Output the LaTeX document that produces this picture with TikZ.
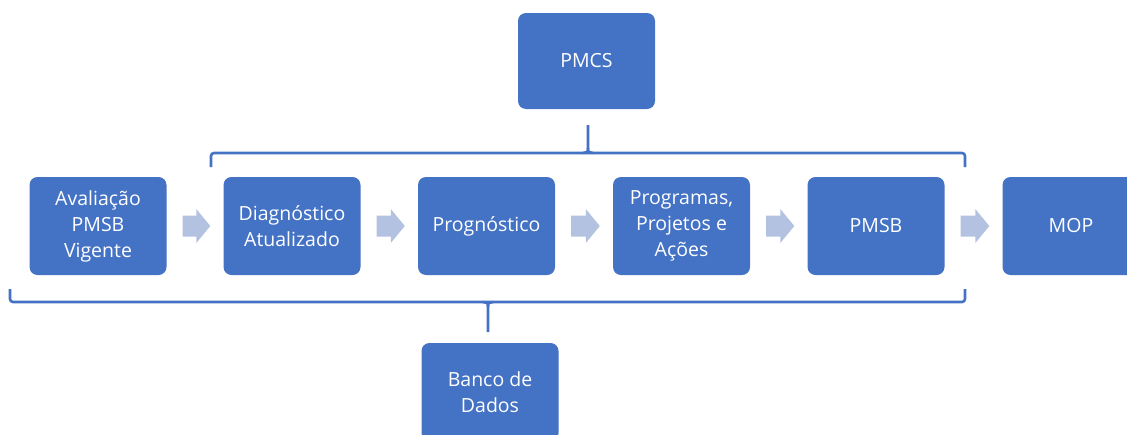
\documentclass[tikz,border=0pt]{standalone}
\usepackage{fontspec}
\setmainfont{Open Sans}
\usetikzlibrary{calc}
\definecolor{boxblue}{RGB}{68,114,196}
\definecolor{arrowblue}{RGB}{180,194,225}
\tikzset{
  stagebox/.style={fill=boxblue, draw=none, rounded corners=8pt, minimum width=137pt, minimum height=98pt,
    text=white, align=center, inner sep=2pt, font=\fontsize{19.5}{26}\selectfont},
  bracketline/.style={draw=boxblue, line width=2.6pt, rounded corners=3pt},
  blockarrow/.style={fill=arrowblue, draw=none}
}
\begin{document}
\begin{tikzpicture}[x=1pt,y=-1pt]
\useasboundingbox (0,0) rectangle (1127,434);
\clip (0,0) rectangle (1127,434);
\node[stagebox] (av) at (98,226) {Avaliação\\PMSB\\Vigente};
\node[stagebox] (dg) at (292,226) {Diagnóstico\\Atualizado};
\node[stagebox] (pg) at (486.5,226) {Prognóstico};
\node[stagebox] (pp) at (681.5,226) {Programas,\\Projetos e\\Ações};
\node[stagebox] (pm) at (876,226) {PMSB};
\node[stagebox] (mo) at (1071,226) {MOP};
\node[stagebox, minimum height=96pt] (pc) at (586.5,61) {PMCS};
\node[stagebox, text depth=0pt] (bd) at (490,392) {Banco de\\Dados};
% block arrows
\foreach \a/\b in {av/dg, dg/pg, pg/pp, pp/pm, pm/mo}{
  \coordinate (s) at ($(\a.east)+(16,0)$);
  \coordinate (e) at ($(\b.west)+(-13,0)$);
  \fill[blockarrow] ($(s)+(0,-10.5)$) -- ($(e)+(-14,-10.5)$) -- ($(e)+(-14,-17)$) -- (e)
     -- ($(e)+(-14,17)$) -- ($(e)+(-14,10.5)$) -- ($(s)+(0,10.5)$) -- cycle;
}
% top bracket
\coordinate (tl) at (211,167);
\coordinate (tr) at (965,167);
\coordinate (tt) at (588,125);
\draw[bracketline] (tl) -- (211,153) -- (965,153) -- (tr);
\draw[draw=boxblue, line width=2.6pt] (tt) -- (588,148) .. controls (588,152) .. (583,153);
\draw[draw=boxblue, line width=2.6pt] (588,148) .. controls (588,152) .. (593,153);
% bottom bracket
\coordinate (bl) at (10,289);
\coordinate (br) at (965,289);
\coordinate (bt) at (488,332);
\draw[bracketline] (bl) -- (10,302) -- (965,302) -- (br);
\draw[draw=boxblue, line width=2.6pt] (bt) -- (488,307) .. controls (488,303) .. (483,302);
\draw[draw=boxblue, line width=2.6pt] (488,307) .. controls (488,303) .. (493,302);
\end{tikzpicture}
\end{document}
